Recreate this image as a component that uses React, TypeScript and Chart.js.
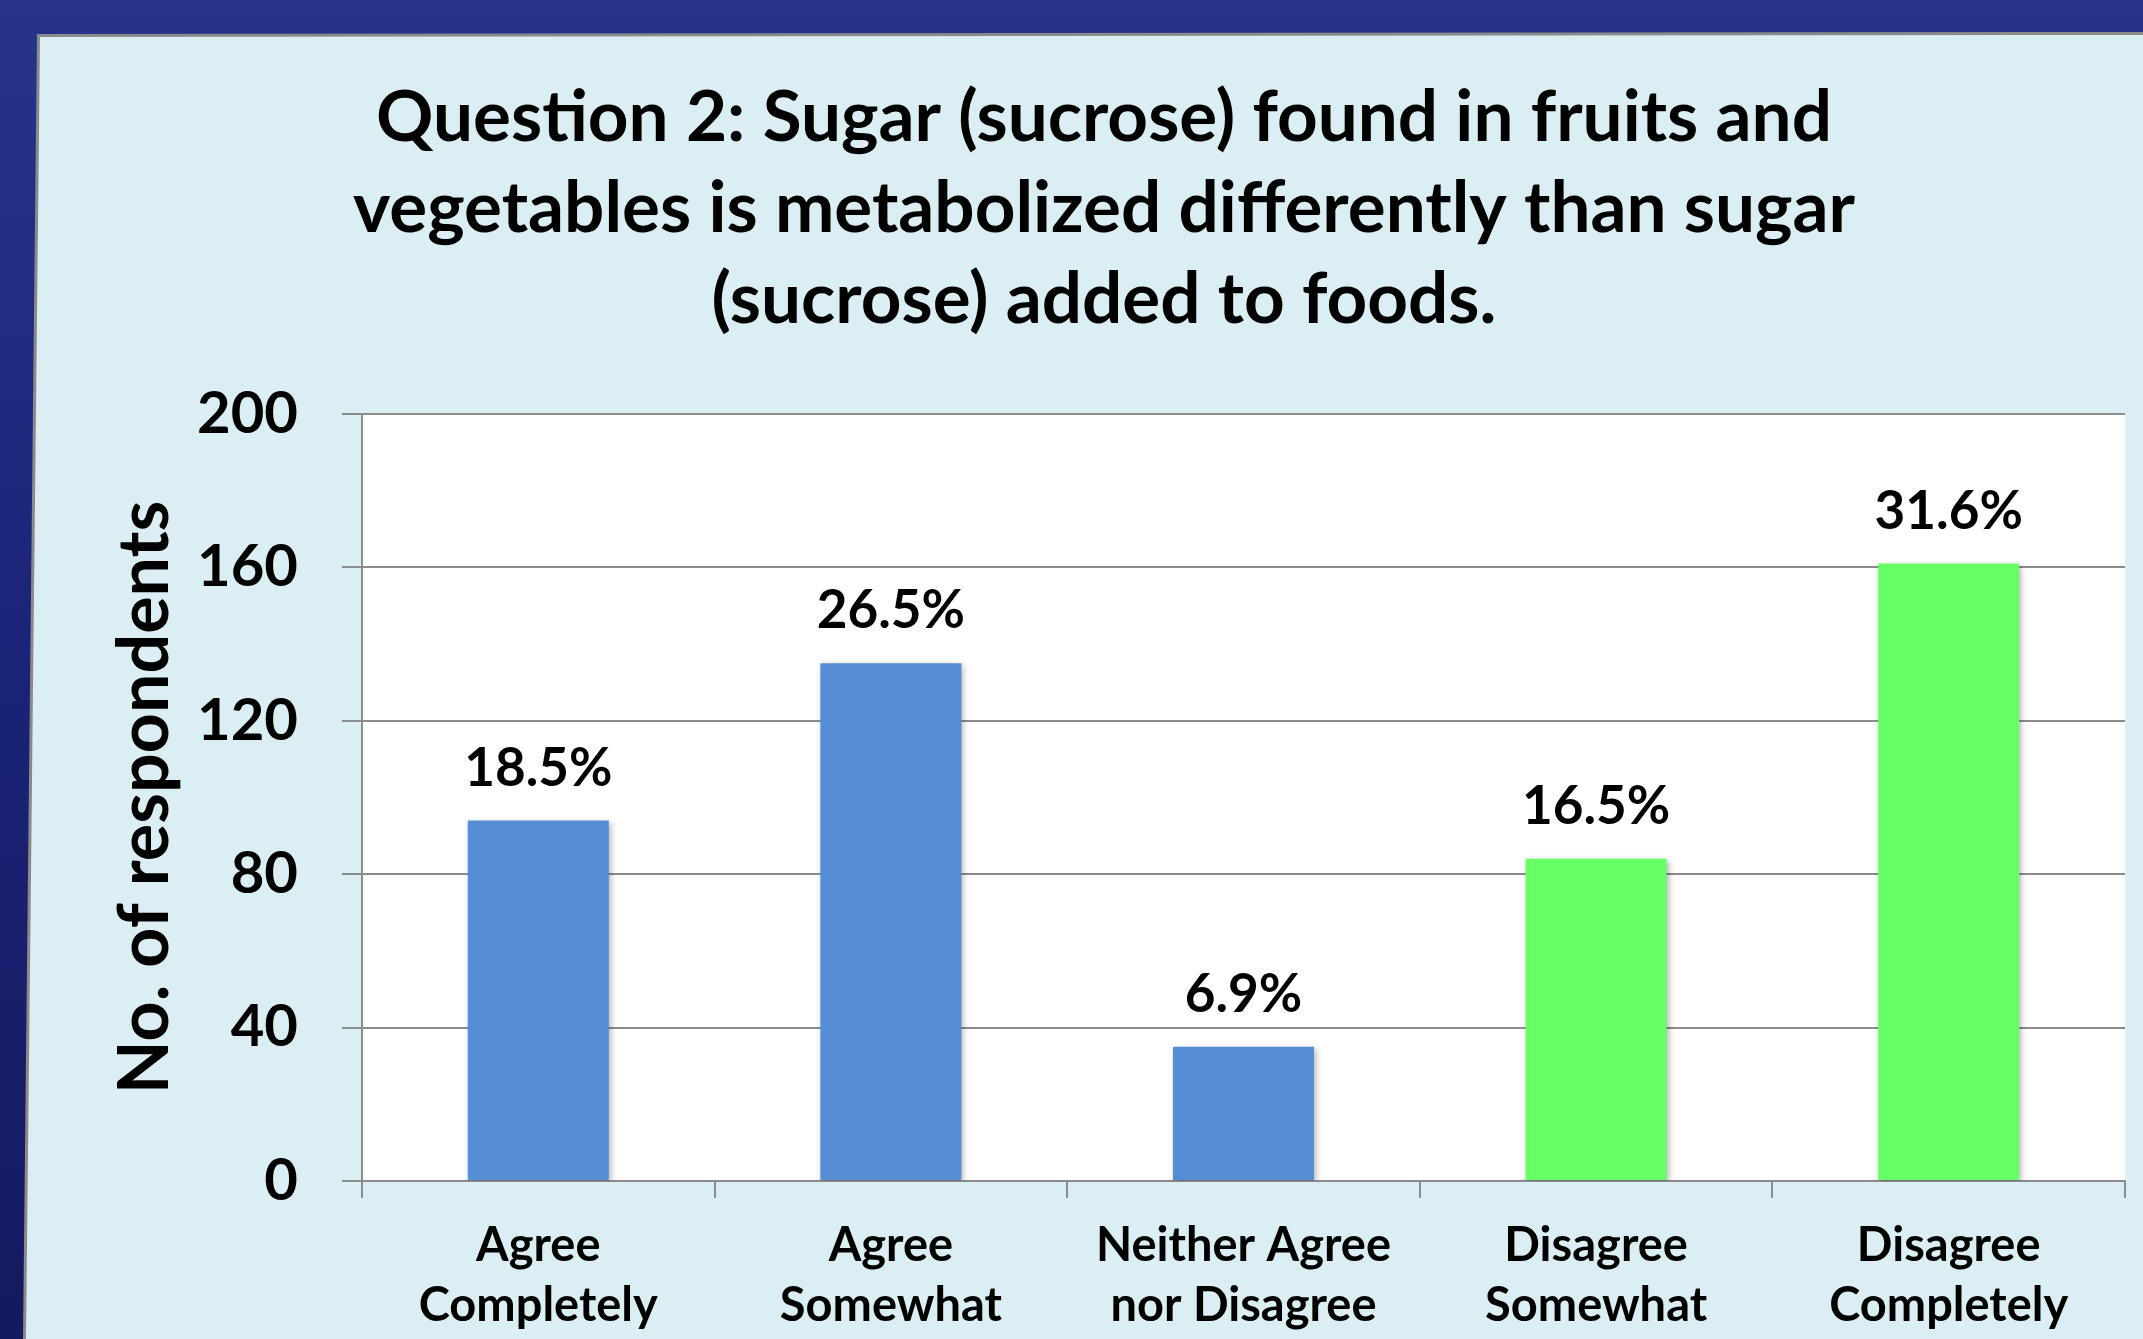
import React, { useEffect, useRef } from "react";
import { Chart, registerables } from "chart.js";

Chart.register(...registerables);

const titleLines = [
  "Question 2: Sugar (sucrose) found in fruits and",
  "vegetables is metabolized differently than sugar",
  "(sucrose) added to foods.",
];
const categories = [
  ["Agree", "Completely"],
  ["Agree", "Somewhat"],
  ["Neither Agree", "nor Disagree"],
  ["Disagree", "Somewhat"],
  ["Disagree", "Completely"],
];
const respondents = [94, 135, 35, 84, 161];
const percentLabels = ["18.5%", "26.5%", "6.9%", "16.5%", "31.6%"];
const barColors = ["#558ED5", "#558ED5", "#558ED5", "#66FF66", "#66FF66"];
const yAxisTitle = "No. of respondents";
const yMin = 0;
const yMax = 200;
const yStep = 40;

const FONT = "Lato, 'Open Sans', sans-serif";

const plotBackground = {
  id: "plotBackground",
  beforeDraw(chart: any) {
    const { ctx, chartArea } = chart;
    ctx.save();
    ctx.fillStyle = "#ffffff";
    ctx.fillRect(chartArea.left, chartArea.top, chartArea.right - chartArea.left, chartArea.bottom - chartArea.top);
    ctx.restore();
  },
};

const barShadow = {
  id: "barShadow",
  beforeDatasetsDraw(chart: any) {
    const ctx = chart.ctx;
    ctx.save();
    ctx.shadowColor = "rgba(0,0,0,0.30)";
    ctx.shadowBlur = 6;
    ctx.shadowOffsetX = 2;
    ctx.shadowOffsetY = 2;
  },
  afterDatasetsDraw(chart: any) {
    chart.ctx.restore();
  },
};

const valueLabels = {
  id: "valueLabels",
  afterDatasetsDraw(chart: any) {
    const { ctx } = chart;
    const meta = chart.getDatasetMeta(0);
    ctx.save();
    ctx.fillStyle = "#000000";
    ctx.font = `bold 53px ${FONT}`;
    ctx.textAlign = "center";
    ctx.textBaseline = "middle";
    meta.data.forEach((bar: any, i: number) => {
      ctx.fillText(percentLabels[i], bar.x, bar.y - 52);
    });
    ctx.restore();
  },
};

function BarChart() {
  const ref = useRef<HTMLCanvasElement | null>(null);
  useEffect(() => {
    if (!ref.current) return;
    const chart = new Chart(ref.current, {
      type: "bar",
      data: {
        labels: categories,
        datasets: [
          {
            data: respondents,
            backgroundColor: barColors,
            borderWidth: 0,
            barPercentage: 0.4,
            categoryPercentage: 1.0,
          },
        ],
      },
      options: {
        responsive: false,
        animation: false,
        layout: { padding: { left: 43, right: 18, top: 0, bottom: 0 } },
        plugins: {
          legend: { display: false },
          tooltip: { enabled: false },
          title: {
            display: true,
            text: titleLines,
            color: "#000000",
            font: { family: FONT, size: 71, weight: "bold", lineHeight: 91 / 71 },
            padding: { top: 38, bottom: 68 },
          },
        },
        scales: {
          x: {
            grid: {
              offset: true,
              drawOnChartArea: false,
              drawTicks: true,
              tickLength: 17,
              color: "#8c8c8c",
              lineWidth: 2,
            },
            border: { color: "#8c8c8c", width: 2 },
            ticks: {
              color: "#000000",
              font: { family: FONT, size: 47, weight: "bold", lineHeight: 60 / 47 },
              padding: 18,
              maxRotation: 0,
              autoSkip: false,
            },
            afterFit(scale: any) {
              scale.height = 158;
            },
          },
          y: {
            min: yMin,
            max: yMax,
            grid: { color: "#8c8c8c", lineWidth: 2, tickLength: 20 },
            border: { color: "#8c8c8c", width: 2 },
            ticks: {
              stepSize: yStep,
              color: "#000000",
              padding: 44,
              font: { family: FONT, size: 58, weight: "bold" },
            },
            title: {
              display: true,
              text: yAxisTitle,
              color: "#000000",
              font: { family: FONT, size: 70, weight: "bold", lineHeight: 1.2 },
              padding: { top: 20, bottom: 0 },
            },
            afterFit(scale: any) {
              scale.width = 279;
            },
          },
        },
      },
      plugins: [plotBackground, barShadow, valueLabels],
    } as any);
    return () => chart.destroy();
  }, []);
  return <canvas ref={ref} width={2103} height={1304} style={{ display: "block", width: 2103, height: 1304 }} />;
}

export default function App() {
  return (
    <div
      style={{
        position: "fixed",
        left: 0,
        top: 0,
        width: 2143,
        height: 1339,
        overflow: "hidden",
        background: "linear-gradient(180deg, #26348c 0%, #1b2377 50%, #141a5e 100%)",
      }}
    >
      <div
        style={{
          position: "absolute",
          left: 0,
          top: 0,
          width: 2143,
          height: 1339,
          background: "#8a8a8a",
          clipPath: "polygon(37px 34px, 100% 32px, 100% 100%, 23px 100%)",
        }}
      />
      <div
        style={{
          position: "absolute",
          left: 0,
          top: 0,
          width: 2143,
          height: 1339,
          background: "#dbeef4",
          clipPath: "polygon(40px 37px, 100% 35px, 100% 100%, 26px 100%)",
        }}
      />
      <div style={{ position: "absolute", left: 40, top: 35 }}>
        <BarChart />
      </div>
    </div>
  );
}
